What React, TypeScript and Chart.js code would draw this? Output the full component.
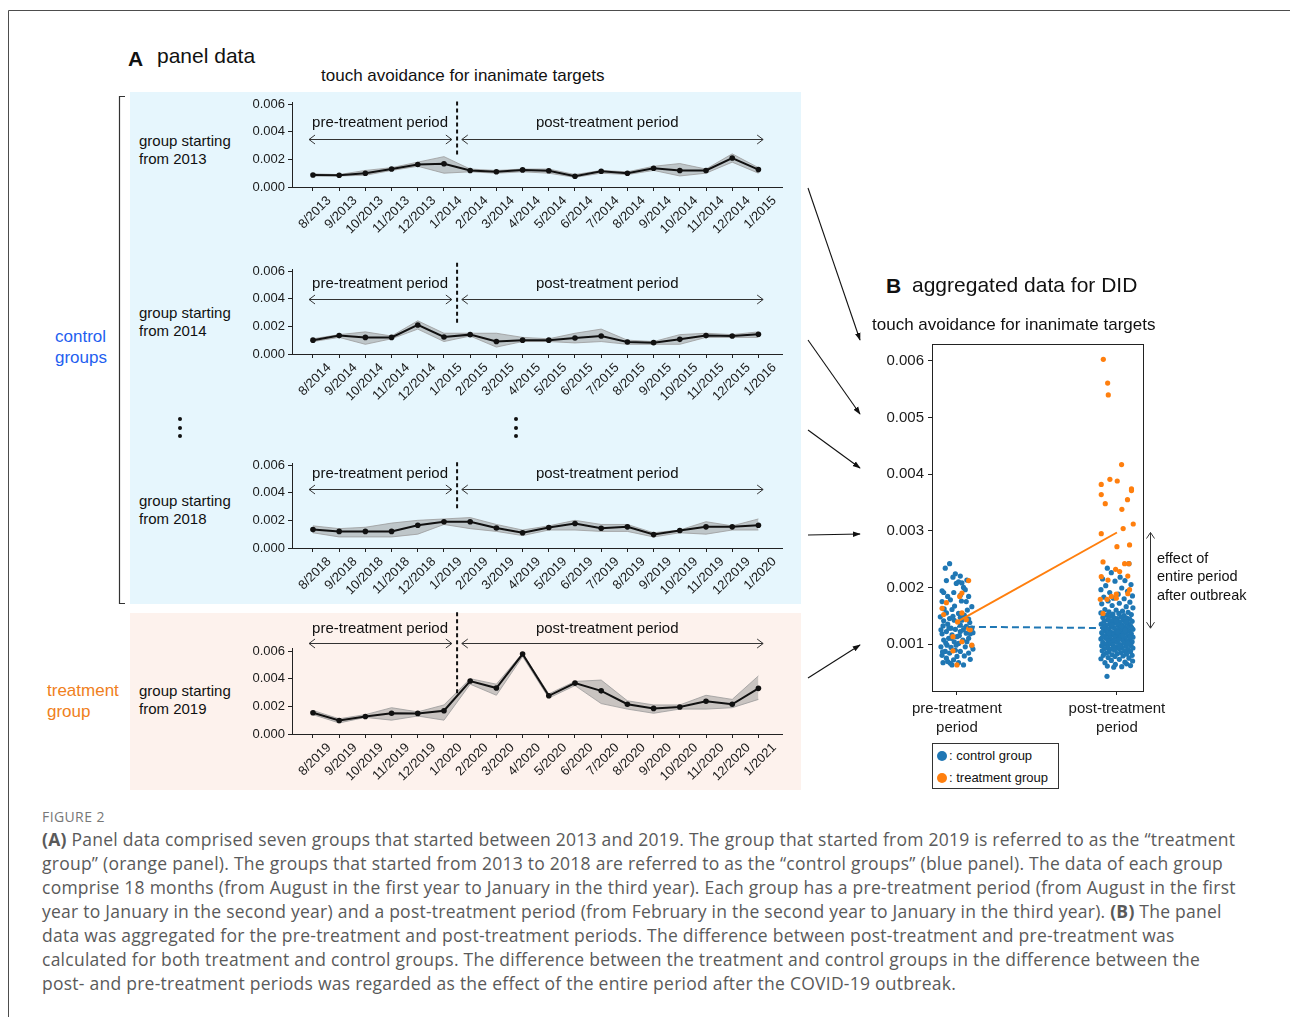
import React, { useEffect, useRef } from 'react';
import { Chart, registerables } from 'chart.js';

Chart.register(...registerables);

const SANS = '"Liberation Sans", Arial, Helvetica, sans-serif';
const CAPTION_FONT = '"Open Sans", "Noto Sans", sans-serif';

// ---- Panel A: monthly series (mean and band) for each starting year ----
const months2013 = ['8/2013', '9/2013', '10/2013', '11/2013', '12/2013', '1/2014', '2/2014', '3/2014', '4/2014', '5/2014', '6/2014', '7/2014', '8/2014', '9/2014', '10/2014', '11/2014', '12/2014', '1/2015'];
const months2014 = ['8/2014', '9/2014', '10/2014', '11/2014', '12/2014', '1/2015', '2/2015', '3/2015', '4/2015', '5/2015', '6/2015', '7/2015', '8/2015', '9/2015', '10/2015', '11/2015', '12/2015', '1/2016'];
const months2018 = ['8/2018', '9/2018', '10/2018', '11/2018', '12/2018', '1/2019', '2/2019', '3/2019', '4/2019', '5/2019', '6/2019', '7/2019', '8/2019', '9/2019', '10/2019', '11/2019', '12/2019', '1/2020'];
const months2019 = ['8/2019', '9/2019', '10/2019', '11/2019', '12/2019', '1/2020', '2/2020', '3/2020', '4/2020', '5/2020', '6/2020', '7/2020', '8/2020', '9/2020', '10/2020', '11/2020', '12/2020', '1/2021'];

const mean2013 = [0.00087, 0.00085, 0.00100, 0.00130, 0.00163, 0.00168, 0.00120, 0.00110, 0.00124, 0.00118, 0.00078, 0.00114, 0.00100, 0.00136, 0.00120, 0.00120, 0.00210, 0.00126];
const upper2013 = [0.00095, 0.00090, 0.00120, 0.00140, 0.00180, 0.00220, 0.00130, 0.00120, 0.00130, 0.00130, 0.00090, 0.00120, 0.00110, 0.00150, 0.00170, 0.00130, 0.00240, 0.00140];
const lower2013 = [0.00080, 0.00080, 0.00085, 0.00120, 0.00150, 0.00100, 0.00110, 0.00100, 0.00110, 0.00100, 0.00070, 0.00100, 0.00090, 0.00120, 0.00080, 0.00100, 0.00180, 0.00100];

const mean2014 = [0.00100, 0.00133, 0.00120, 0.00120, 0.00210, 0.00123, 0.00140, 0.00090, 0.00100, 0.00100, 0.00116, 0.00130, 0.00087, 0.00082, 0.00106, 0.00133, 0.00130, 0.00143];
const upper2014 = [0.00110, 0.00140, 0.00160, 0.00130, 0.00240, 0.00150, 0.00150, 0.00150, 0.00120, 0.00110, 0.00150, 0.00180, 0.00100, 0.00090, 0.00140, 0.00150, 0.00140, 0.00160];
const lower2014 = [0.00090, 0.00120, 0.00070, 0.00110, 0.00180, 0.00090, 0.00130, 0.00050, 0.00090, 0.00090, 0.00080, 0.00090, 0.00070, 0.00070, 0.00070, 0.00120, 0.00120, 0.00120];

const mean2018 = [0.00133, 0.00120, 0.00120, 0.00120, 0.00165, 0.00190, 0.00190, 0.00145, 0.00110, 0.00148, 0.00177, 0.00143, 0.00153, 0.00097, 0.00126, 0.00153, 0.00153, 0.00165];
const upper2018 = [0.00160, 0.00140, 0.00150, 0.00180, 0.00200, 0.00210, 0.00220, 0.00170, 0.00130, 0.00160, 0.00200, 0.00170, 0.00170, 0.00110, 0.00130, 0.00190, 0.00160, 0.00210];
const lower2018 = [0.00110, 0.00080, 0.00080, 0.00080, 0.00100, 0.00170, 0.00140, 0.00120, 0.00090, 0.00130, 0.00130, 0.00120, 0.00120, 0.00080, 0.00110, 0.00100, 0.00130, 0.00130];

const mean2019 = [0.00154, 0.00098, 0.00127, 0.00150, 0.00149, 0.00168, 0.00383, 0.00332, 0.00578, 0.00276, 0.00368, 0.00312, 0.00215, 0.00185, 0.00195, 0.00237, 0.00215, 0.00330];
const upper2019 = [0.00170, 0.00110, 0.00140, 0.00190, 0.00160, 0.00210, 0.00400, 0.00360, 0.00585, 0.00290, 0.00380, 0.00390, 0.00240, 0.00210, 0.00210, 0.00280, 0.00250, 0.00420];
const lower2019 = [0.00140, 0.00080, 0.00120, 0.00100, 0.00130, 0.00100, 0.00360, 0.00280, 0.00560, 0.00260, 0.00350, 0.00220, 0.00180, 0.00150, 0.00180, 0.00180, 0.00190, 0.00250];

const yTicksA = [0, 0.002, 0.004, 0.006];

// ---- Panel B: aggregated observations as [jitter, value] ----
const preControl = [
  [-0.046, 0.00242], [-0.073, 0.00234], [-0.01, 0.00224], [0.021, 0.0022], [-0.025, 0.00218], [-0.066, 0.00212],
  [0.062, 0.00213], [0.01, 0.0021], [-0.004, 0.00207], [0.031, 0.00208], [0.041, 0.002], [-0.093, 0.00194],
  [-0.083, 0.00191], [0.052, 0.00196], [0.021, 0.00186], [-0.058, 0.00184], [0.073, 0.00184], [-0.041, 0.00178],
  [-0.093, 0.00175], [0.058, 0.00175], [-0.015, 0.00167], [0.093, 0.00166], [-0.031, 0.00161], [-0.066, 0.00155],
  [0.01, 0.00154], [0.046, 0.00151], [-0.104, 0.00148], [-0.046, 0.00145], [0.021, 0.00147], [-0.083, 0.00141],
  [-0.017, 0.00142], [0.073, 0.00144], [-0.058, 0.00135], [0.021, 0.00134], [-0.087, 0.00132], [0.058, 0.00131],
  [-0.037, 0.00128], [-0.01, 0.00126], [0.093, 0.00128], [-0.066, 0.00122], [0.021, 0.00122], [-0.093, 0.00118],
  [0.058, 0.00119], [-0.031, 0.00116], [0, 0.00113], [-0.052, 0.0011], [-0.083, 0.00107], [0.037, 0.00107],
  [0.073, 0.0011], [-0.017, 0.00104], [-0.062, 0.00098], [0.01, 0.00101], [-0.1, 0.00095], [-0.037, 0.00094],
  [0.052, 0.00095], [0.093, 0.00097], [-0.01, 0.00089], [-0.073, 0.00087], [0.021, 0.00087], [-0.046, 0.00084],
  [0.073, 0.00084], [-0.093, 0.0008], [0, 0.00078], [0.046, 0.00079], [-0.066, 0.00075], [-0.021, 0.00072],
  [0.083, 0.00073], [-0.041, 0.00066], [0.01, 0.00067], [-0.087, 0.00067], [0.041, 0.00063], [-0.031, 0.00063],
  [-0.058, 0.00069], [0.083, 0.00118], [-0.1, 0.00125], [0.031, 0.00142], [-0.025, 0.00149], [0.062, 0.00104],
  [-0.005, 0.00098], [0.1, 0.0012], [-0.07, 0.00102], [0.04, 0.00125], [-0.035, 0.0011], [0.08, 0.00138],
  [-0.09, 0.00086], [0.015, 0.00115], [0.1, 0.00091], [-0.05, 0.00128], [0.065, 0.0016], [-0.08, 0.00162],
  [0.028, 0.00176], [-0.02, 0.00191],
];

const preTreatment = [
  [0.073, 0.00212], [0.031, 0.0019], [0.017, 0.00184], [-0.066, 0.00173], [-0.093, 0.00163], [-0.083, 0.00152],
  [0.031, 0.00155], [0.058, 0.00143], [0.004, 0.00139], [0.073, 0.00127], [0.083, 0.00125], [-0.025, 0.00113],
  [0.031, 0.00104], [0.093, 0.00098], [-0.025, 0.00088], [0, 0.00063],
];

const postControl = [
  [-0.06, 0.00234], [0.075, 0.00242], [-0.035, 0.00226], [0.02, 0.00218], [-0.09, 0.00215], [0.05, 0.00212],
  [-0.012, 0.00211], [0.088, 0.00205], [-0.07, 0.00203], [0.03, 0.00199], [-0.1, 0.00196], [0.066, 0.00193],
  [-0.045, 0.00191], [0.008, 0.00188], [0.097, 0.00185], [-0.082, 0.00183], [-0.022, 0.00181], [0.045, 0.0018],
  [-0.055, 0.00176], [0.081, 0.00174], [0.015, 0.00172], [-0.095, 0.00171], [-0.03, 0.00168], [0.058, 0.00166],
  [0.1, 0.00164], [-0.075, 0.00161], [-0.005, 0.0016], [0.035, 0.00158], [-0.05, 0.00157], [0.07, 0.00156],
  [-0.1, 0.00155], [0.012, 0.00154], [-0.025, 0.00153], [0.09, 0.00152], [-0.065, 0.00151], [0.045, 0.0015],
  [-0.04, 0.00149], [0.025, 0.00148], [-0.088, 0.00147], [0.062, 0.00146], [-0.015, 0.00146], [0.002, 0.00145],
  [0.08, 0.00144], [-0.058, 0.00143], [0.04, 0.00142], [-0.03, 0.00141], [0.095, 0.0014], [-0.08, 0.0014],
  [0.018, 0.00139], [0.055, 0.00138], [-0.01, 0.00137], [-0.045, 0.00136], [0.072, 0.00136], [-0.098, 0.00135],
  [0.03, 0.00134], [-0.068, 0.00133], [0.008, 0.00133], [0.085, 0.00132], [-0.035, 0.00131], [0.048, 0.0013],
  [-0.02, 0.00129], [0.065, 0.00129], [-0.085, 0.00128], [0.015, 0.00127], [-0.052, 0.00127], [0.1, 0.00126],
  [0.038, 0.00125], [-0.005, 0.00125], [-0.072, 0.00124], [0.078, 0.00123], [0.022, 0.00122], [-0.04, 0.00122],
  [0.058, 0.00121], [-0.095, 0.0012], [-0.015, 0.0012], [0.042, 0.00119], [-0.06, 0.00118], [0.09, 0.00118],
  [0.005, 0.00117], [-0.028, 0.00116], [0.068, 0.00115], [-0.082, 0.00115], [0.025, 0.00114], [-0.045, 0.00113],
  [0.1, 0.00112], [-0.01, 0.00112], [0.052, 0.00111], [-0.068, 0.0011], [0.015, 0.0011], [-0.1, 0.00109],
  [0.08, 0.00108], [-0.035, 0.00108], [0.035, 0.00107], [-0.055, 0.00106], [0.062, 0.00105], [-0.018, 0.00105],
  [0.095, 0.00104], [-0.088, 0.00103], [0.002, 0.00103], [0.045, 0.00102], [-0.042, 0.00101], [0.075, 0.001],
  [-0.07, 0.001], [0.02, 0.00099], [-0.025, 0.00098], [0.088, 0.00097], [-0.095, 0.00097], [0.058, 0.00096],
  [-0.005, 0.00095], [-0.058, 0.00094], [0.032, 0.00094], [0.1, 0.00093], [-0.078, 0.00092], [0.012, 0.00092],
  [-0.038, 0.00091], [0.07, 0.0009], [-0.015, 0.00089], [0.048, 0.00088], [-0.092, 0.00088], [0.085, 0.00087],
  [-0.05, 0.00086], [0.025, 0.00085], [-0.065, 0.00084], [0.002, 0.00083], [0.06, 0.00082], [-0.03, 0.00081],
  [0.095, 0.0008], [-0.085, 0.0008], [0.038, 0.00079], [-0.012, 0.00078], [-0.055, 0.00076], [0.075, 0.00075],
  [-0.1, 0.00074], [0.015, 0.00073], [-0.035, 0.00071], [0.098, 0.0007], [0.05, 0.00068], [-0.075, 0.00067],
  [-0.01, 0.00064], [0.085, 0.00062], [-0.06, 0.00061], [0.03, 0.0006], [-0.02, 0.00059], [0.06, 0.00065],
  [-0.062, 0.00043], [0.028, 0.00131], [-0.048, 0.00119], [0.083, 0.00112], [-0.008, 0.00141], [0.052, 0.00124],
  [-0.078, 0.00131], [0.01, 0.00108], [0.068, 0.00101], [-0.022, 0.00093], [0.036, 0.00115], [-0.062, 0.00127],
  [0.092, 0.00129], [0.005, 0.00121], [-0.032, 0.00134], [0.058, 0.00139], [-0.09, 0.00112], [0.018, 0.00096],
];

const postTreatment = [
  [-0.085, 0.00603], [-0.058, 0.00561], [-0.054, 0.0054], [0.029, 0.00417], [-0.044, 0.00391], [0.002, 0.00388],
  [-0.098, 0.00382], [0.091, 0.00374], [0.091, 0.00371], [-0.098, 0.00364], [0.066, 0.00355], [-0.073, 0.00348],
  [0.031, 0.00338], [0.102, 0.00312], [0.039, 0.00304], [-0.098, 0.00295], [0.079, 0.00275], [0, 0.00272],
  [-0.087, 0.00245], [0.048, 0.00242], [0.075, 0.00242], [-0.008, 0.00232], [0.017, 0.00228], [-0.098, 0.00219],
  [0.068, 0.0022], [-0.056, 0.00213], [0.079, 0.00196], [-0.004, 0.00188], [0.068, 0.00189], [-0.035, 0.00184],
  [-0.004, 0.00181], [-0.104, 0.00179], [-0.062, 0.00179], [-0.087, 0.00154],
];

const yTicksB = [0.001, 0.002, 0.003, 0.004, 0.005, 0.006];
const periodLabels = [['pre-treatment', 'period'], ['post-treatment', 'period']];
const controlMeans = [0.001306, 0.00128];
const treatmentMeans = [0.00139, 0.00297];

const BLUE = '#1f77b4';
const ORANGE = '#ff7f0e';

// ---- drawing helpers ----
function hChevron(ctx: CanvasRenderingContext2D, x: number, y: number, dir: number) {
  ctx.beginPath();
  ctx.moveTo(x - dir * 6, y - 4.5);
  ctx.lineTo(x, y);
  ctx.lineTo(x - dir * 6, y + 4.5);
  ctx.stroke();
}
function vChevron(ctx: CanvasRenderingContext2D, x: number, y: number, dir: number) {
  ctx.beginPath();
  ctx.moveTo(x - 4, y - dir * 6);
  ctx.lineTo(x, y);
  ctx.lineTo(x + 4, y - dir * 6);
  ctx.stroke();
}

const periodPlugin = {
  id: 'periods',
  afterDatasetsDraw(chart: any, _args: any, opts: any) {
    const { ctx } = chart;
    const xs = chart.scales.x;
    const ys = chart.scales.y;
    ctx.save();
    // boundary between periods
    const xd = xs.getPixelForValue(opts.splitAt);
    ctx.strokeStyle = '#111';
    ctx.lineWidth = 2;
    ctx.setLineDash([4, 3]);
    ctx.beginPath();
    ctx.moveTo(xd, ys.getPixelForValue(opts.dashTop));
    ctx.lineTo(xd, ys.getPixelForValue(opts.dashBottom));
    ctx.stroke();
    ctx.setLineDash([]);
    // period spans
    ctx.strokeStyle = '#333';
    ctx.lineWidth = 1;
    const ay = Math.round(ys.getPixelForValue(opts.arrowY)) + 0.5;
    for (const [a, b] of [opts.preSpan, opts.postSpan]) {
      const x1 = xs.getPixelForValue(a);
      const x2 = xs.getPixelForValue(b);
      ctx.beginPath();
      ctx.moveTo(x1, ay);
      ctx.lineTo(x2, ay);
      ctx.stroke();
      hChevron(ctx, x1, ay, -1);
      hChevron(ctx, x2, ay, 1);
    }
    ctx.fillStyle = '#111';
    ctx.font = '15px ' + SANS;
    ctx.textAlign = 'center';
    ctx.textBaseline = 'middle';
    const ty = ys.getPixelForValue(opts.textY);
    ctx.fillText('pre-treatment period', xs.getPixelForValue(opts.preText), ty);
    ctx.fillText('post-treatment period', xs.getPixelForValue(opts.postText), ty);
    ctx.restore();
  },
};

const didPlugin = {
  id: 'didFrame',
  afterDatasetsDraw(chart: any) {
    const { ctx, chartArea } = chart;
    const ys = chart.scales.y;
    ctx.save();
    ctx.strokeStyle = '#222';
    ctx.lineWidth = 1;
    ctx.strokeRect(
      Math.round(chartArea.left) + 0.5,
      Math.round(chartArea.top) + 0.5,
      Math.round(chartArea.right - chartArea.left),
      Math.round(chartArea.bottom - chartArea.top)
    );
    // effect of the entire period: gap between the two post-period means
    const ax = Math.round(chartArea.right + 7) + 0.5;
    const y1 = ys.getPixelForValue(treatmentMeans[1]);
    const y2 = ys.getPixelForValue(controlMeans[1]);
    ctx.strokeStyle = '#333';
    ctx.beginPath();
    ctx.moveTo(ax, y1);
    ctx.lineTo(ax, y2);
    ctx.stroke();
    vChevron(ctx, ax, y1, -1);
    vChevron(ctx, ax, y2, 1);
    ctx.restore();
  },
};

const PX_PER_UNIT = 83 / 0.006;

type Geo = { left: number; top: number; width: number; height: number; zeroY: number; yMax: number };

function PanelChart(props: {
  geo: Geo;
  labels: string[];
  mean: number[];
  upper: number[];
  lower: number[];
  marks: any;
}) {
  const ref = useRef<HTMLCanvasElement>(null);
  useEffect(() => {
    const { geo, labels, mean, upper, lower, marks } = props;
    const padTop = geo.zeroY - geo.yMax * PX_PER_UNIT - geo.top;
    const xAxisH = geo.top + geo.height - geo.zeroY;
    const axisFont = { family: SANS, size: 13 };
    const pts = (arr: number[]) => arr.map((v, i) => ({ x: i, y: v }));
    const chart = new Chart(ref.current!, {
      type: 'line',
      data: {
        datasets: [
          {
            data: pts(mean),
            borderColor: '#111',
            borderWidth: 2,
            pointRadius: 2.8,
            pointBackgroundColor: '#111',
            pointBorderWidth: 0,
            fill: false,
            tension: 0,
          },
          {
            data: pts(lower),
            borderColor: '#9a9a9a',
            borderWidth: 0.8,
            pointRadius: 0,
            fill: false,
            tension: 0,
          },
          {
            data: pts(upper),
            borderColor: '#9a9a9a',
            borderWidth: 0.8,
            pointRadius: 0,
            fill: '-1',
            backgroundColor: 'rgba(150,150,150,0.5)',
            tension: 0,
          },
        ],
      },
      options: {
        animation: false,
        responsive: false,
        maintainAspectRatio: false,
        layout: { padding: { top: padTop, right: 14, left: 0, bottom: 0 } },
        plugins: { legend: { display: false }, tooltip: { enabled: false }, periods: marks } as any,
        scales: {
          x: {
            type: 'linear',
            min: -0.8,
            max: 17.9,
            afterBuildTicks: (s: any) => {
              s.ticks = labels.map((_, i) => ({ value: i }));
            },
            afterFit: (s: any) => {
              s.height = xAxisH;
            },
            ticks: {
              callback: (v: any) => labels[Math.round(Number(v))],
              autoSkip: false,
              minRotation: 45,
              maxRotation: 45,
              labelOffset: 16,
              font: axisFont,
              color: '#1a1a1a',
              padding: 2,
            },
            grid: { drawOnChartArea: false, drawTicks: true, tickLength: 4, color: '#222' },
            border: { color: '#222', width: 1 },
          },
          y: {
            min: 0,
            max: geo.yMax,
            afterBuildTicks: (s: any) => {
              s.ticks = yTicksA.map((v) => ({ value: v }));
            },
            afterFit: (s: any) => {
              s.width = 56;
            },
            ticks: {
              callback: (v: any) => Number(v).toFixed(3),
              font: axisFont,
              color: '#1a1a1a',
              padding: 3,
            },
            grid: { drawOnChartArea: false, drawTicks: true, tickLength: 4, color: '#222' },
            border: { color: '#222', width: 1 },
          },
        },
      } as any,
      plugins: [periodPlugin],
    });
    return () => chart.destroy();
  }, []);
  const g = props.geo;
  return (
    <canvas
      ref={ref}
      width={g.width}
      height={g.height}
      style={{ position: 'absolute', left: g.left, top: g.top, width: g.width, height: g.height }}
    />
  );
}

function DidChart() {
  const ref = useRef<HTMLCanvasElement>(null);
  useEffect(() => {
    const axisFont = { family: SANS, size: 15, lineHeight: 1.27 };
    const toPts = (arr: number[][], base: number) => arr.map(([dx, v]) => ({ x: base + dx, y: v }));
    const chart = new Chart(ref.current!, {
      type: 'scatter',
      data: {
        datasets: [
          {
            data: treatmentMeans.map((v, i) => ({ x: i, y: v })),
            showLine: true,
            borderColor: ORANGE,
            borderWidth: 2,
            pointRadius: 0,
          },
          {
            data: controlMeans.map((v, i) => ({ x: i, y: v })),
            showLine: true,
            borderColor: BLUE,
            borderWidth: 2,
            borderDash: [7, 4],
            pointRadius: 0,
          },
          {
            data: [...toPts(preTreatment, 0), ...toPts(postTreatment, 1)],
            pointRadius: 2.6,
            pointBackgroundColor: ORANGE,
            pointBorderWidth: 0,
          },
          {
            data: [...toPts(preControl, 0), ...toPts(postControl, 1)],
            pointRadius: 2.6,
            pointBackgroundColor: BLUE,
            pointBorderWidth: 0,
          },
        ],
      },
      options: {
        animation: false,
        responsive: false,
        maintainAspectRatio: false,
        layout: { padding: { top: 24, right: 57, left: 0, bottom: 0 } },
        plugins: { legend: { display: false }, tooltip: { enabled: false } },
        scales: {
          x: {
            type: 'linear',
            min: -0.156,
            max: 1.163,
            afterBuildTicks: (s: any) => {
              s.ticks = [{ value: 0 }, { value: 1 }];
            },
            afterFit: (s: any) => {
              s.height = 55;
            },
            ticks: {
              callback: (v: any) => periodLabels[Math.round(Number(v))],
              font: axisFont,
              color: '#1a1a1a',
              padding: 4,
              maxRotation: 0,
              minRotation: 0,
            },
            grid: { drawOnChartArea: false, drawTicks: true, tickLength: 4, color: '#222' },
            border: { color: '#222', width: 1 },
          },
          y: {
            min: 0.00017,
            max: 0.0063,
            afterBuildTicks: (s: any) => {
              s.ticks = yTicksB.map((v) => ({ value: v }));
            },
            afterFit: (s: any) => {
              s.width = 72;
            },
            ticks: {
              callback: (v: any) => Number(v).toFixed(3),
              font: axisFont,
              color: '#1a1a1a',
              padding: 4,
            },
            grid: { drawOnChartArea: false, drawTicks: true, tickLength: 4, color: '#222' },
            border: { color: '#222', width: 1 },
          },
        },
      } as any,
      plugins: [didPlugin],
    });
    return () => chart.destroy();
  }, []);
  return (
    <canvas
      ref={ref}
      width={340}
      height={426}
      style={{ position: 'absolute', left: 860, top: 320, width: 340, height: 426 }}
    />
  );
}

// y is the vertical centre of the first line
function Txt(props: { x: number; y: number; size: number; lh?: number; color?: string; bold?: boolean; font?: string; children: any; ls?: number }) {
  const lh = props.lh ?? Math.round(props.size * 1.2);
  return (
    <div
      style={{
        position: 'absolute',
        left: props.x,
        top: props.y - lh / 2,
        fontSize: props.size,
        lineHeight: lh + 'px',
        color: props.color ?? '#111',
        fontWeight: props.bold ? 'bold' : 'normal',
        fontFamily: props.font ?? SANS,
        whiteSpace: 'pre',
        letterSpacing: props.ls ?? 0,
      }}
    >
      {props.children}
    </div>
  );
}

const spanMarks = { splitAt: 5.5, preSpan: [-0.15, 5.3], postSpan: [5.68, 17.18], preText: 2.56, postText: 11.23 };

const panels = [
  {
    geo: { left: 236, top: 92, width: 560, height: 160, zeroY: 187, yMax: 0.0061 },
    labels: months2013, mean: mean2013, upper: upper2013, lower: lower2013,
    marks: { ...spanMarks, textY: 0.00466, arrowY: 0.0035, dashTop: 0.0062, dashBottom: 0.00236 },
  },
  {
    geo: { left: 236, top: 258, width: 560, height: 160, zeroY: 354, yMax: 0.0061 },
    labels: months2014, mean: mean2014, upper: upper2014, lower: lower2014,
    marks: { ...spanMarks, textY: 0.00508, arrowY: 0.00399, dashTop: 0.0066, dashBottom: 0.00218 },
  },
  {
    geo: { left: 236, top: 452, width: 560, height: 160, zeroY: 548, yMax: 0.0061 },
    labels: months2018, mean: mean2018, upper: upper2018, lower: lower2018,
    marks: { ...spanMarks, textY: 0.00534, arrowY: 0.00423, dashTop: 0.0062, dashBottom: 0.00272 },
  },
  {
    geo: { left: 236, top: 608, width: 560, height: 190, zeroY: 734, yMax: 0.0062 },
    labels: months2019, mean: mean2019, upper: upper2019, lower: lower2019,
    marks: { ...spanMarks, textY: 0.0076, arrowY: 0.0066, dashTop: 0.0088, dashBottom: 0.00285 },
  },
];

const captionLines = [
  [<b key="a">(A)</b>, ' Panel data comprised seven groups that started between 2013 and 2019. The group that started from 2019 is referred to as the \u201ctreatment'],
  ['group\u201d (orange panel). The groups that started from 2013 to 2018 are referred to as the \u201ccontrol groups\u201d (blue panel). The data of each group'],
  ['comprise 18 months (from August in the first year to January in the third year). Each group has a pre-treatment period (from August in the first'],
  ['year to January in the second year) and a post-treatment period (from February in the second year to January in the third year). ', <b key="b">(B)</b>, ' The panel'],
  ['data was aggregated for the pre-treatment and post-treatment periods. The difference between post-treatment and pre-treatment was'],
  ['calculated for both treatment and control groups. The difference between the treatment and control groups in the difference between the'],
  ['post- and pre-treatment periods was regarded as the effect of the entire period after the COVID-19 outbreak.'],
];

export default function App() {
  return (
    <div
      style={{
        position: 'fixed',
        left: 0,
        top: 0,
        width: 1290,
        height: 1017,
        background: '#fff',
        overflow: 'hidden',
        fontFamily: SANS,
      }}
    >
      {/* panel backgrounds */}
      <div style={{ position: 'absolute', left: 130, top: 92, width: 671, height: 512, background: '#e6f6fd' }} />
      <div style={{ position: 'absolute', left: 130, top: 613, width: 671, height: 177, background: '#fdf2ed' }} />

      <svg width={1290} height={1017} style={{ position: 'absolute', left: 0, top: 0 }}>
        <defs>
          <marker id="tip" viewBox="0 0 10 10" refX="9" refY="5" markerWidth="8" markerHeight="8" orient="auto-start-reverse" markerUnits="userSpaceOnUse">
            <path d="M0,1.5 L10,5 L0,8.5 Z" fill="#111" />
          </marker>
        </defs>
        <path d="M8.5,1017 V10.5 H1290" fill="none" stroke="#4d4d4d" strokeWidth={1} />
        <path d="M125,96.5 H119.5 V603.5 H125" fill="none" stroke="#333" strokeWidth={1.2} />
        {[419, 428, 436].map((y) => (
          <g key={y}>
            <circle cx={180} cy={y} r={2} fill="#111" />
            <circle cx={516} cy={y} r={2} fill="#111" />
          </g>
        ))}
        <g stroke="#111" strokeWidth={1.1} fill="none">
          <line x1={808} y1={188} x2={860} y2={340} markerEnd="url(#tip)" />
          <line x1={808} y1={340} x2={860} y2={414} markerEnd="url(#tip)" />
          <line x1={808} y1={430} x2={860} y2={468} markerEnd="url(#tip)" />
          <line x1={808} y1={535} x2={860} y2={534} markerEnd="url(#tip)" />
          <line x1={808} y1={678} x2={860} y2={645} markerEnd="url(#tip)" />
        </g>
      </svg>

      {panels.map((p, i) => (
        <PanelChart key={i} geo={p.geo} labels={p.labels} mean={p.mean} upper={p.upper} lower={p.lower} marks={p.marks} />
      ))}
      <DidChart />

      {/* panel A headings and row labels */}
      <Txt x={128} y={58} size={21} bold>A</Txt>
      <Txt x={157} y={55} size={21}>panel data</Txt>
      <Txt x={321} y={76} size={17}>touch avoidance for inanimate targets</Txt>
      <Txt x={139} y={141} size={15} lh={18}>{'group starting\nfrom 2013'}</Txt>
      <Txt x={139} y={313} size={15} lh={18}>{'group starting\nfrom 2014'}</Txt>
      <Txt x={139} y={501} size={15} lh={18}>{'group starting\nfrom 2018'}</Txt>
      <Txt x={139} y={691} size={15} lh={18}>{'group starting\nfrom 2019'}</Txt>
      <Txt x={55} y={336} size={17} lh={21} color="#1f5ff0">{'control\ngroups'}</Txt>
      <Txt x={47} y={690} size={17} lh={21} color="#f08020">{'treatment\ngroup'}</Txt>

      {/* panel B headings and notes */}
      <Txt x={886} y={285} size={21} bold>B</Txt>
      <Txt x={912} y={284} size={21}>aggregated data for DID</Txt>
      <Txt x={872} y={325} size={17}>touch avoidance for inanimate targets</Txt>
      <Txt x={1157} y={558} size={14.5} lh={18.5}>{'effect of\nentire period\nafter outbreak'}</Txt>

      <div
        style={{
          position: 'absolute',
          left: 932,
          top: 743,
          width: 125,
          height: 44,
          border: '1px solid #333',
          background: '#fff',
          fontSize: 13,
          color: '#111',
        }}
      >
        {[
          [BLUE, ': control group'],
          [ORANGE, ': treatment group'],
        ].map(([c, t], i) => (
          <div key={i} style={{ position: 'absolute', left: 4, top: 3 + i * 22, height: 18, lineHeight: '18px', whiteSpace: 'pre' }}>
            <span style={{ display: 'inline-block', width: 10, height: 10, borderRadius: 5, background: c, marginRight: 2, verticalAlign: -1 }} />
            {t}
          </div>
        ))}
      </div>

      {/* caption */}
      <Txt x={42} y={816} size={14} color="#777" font={CAPTION_FONT} ls={0.4}>FIGURE 2</Txt>
      {captionLines.map((parts, i) => (
        <Txt key={i} x={42} y={839 + i * 24} size={17.5} lh={24} color="#5a5a5a" font={CAPTION_FONT} ls={0.25}>
          {parts}
        </Txt>
      ))}
    </div>
  );
}
